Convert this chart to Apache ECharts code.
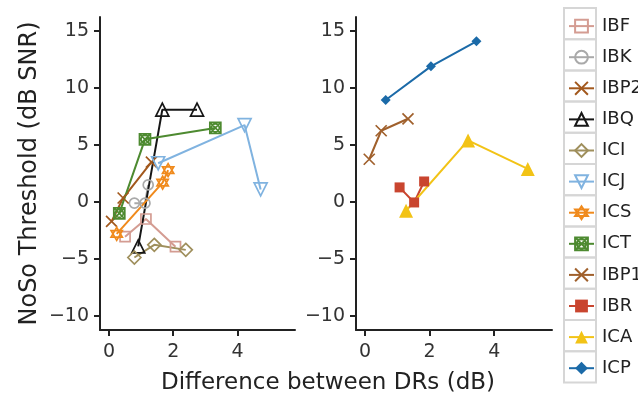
<!DOCTYPE html>
<html><head><meta charset="utf-8">
<script src="https://cdn.jsdelivr.net/npm/echarts@6/dist/echarts.min.js"></script>
<style>html,body{margin:0;padding:0;background:#fff}#c{width:638px;height:395px}</style>
</head><body><div id="c"></div>
<script>
// ---- tick labels ----
const yTicks = [-10, -5, 0, 5, 10, 15];
const xTicks = [0, 2, 4];
const xTitle = 'Difference between DRs (dB)';
const yTitle = 'NoSo Threshold (dB SNR)';

// ---- left panel data ----
const IBF_x  = [0.50, 1.15, 2.07];  const IBF_y  = [-3.04, -1.49, -3.92];
const IBK_x  = [0.79, 1.12, 1.22];  const IBK_y  = [-0.10, -0.10, 1.50];
const IBP2_x = [0.08, 0.44, 1.32];  const IBP2_y = [-1.70, 0.35, 3.50];
const IBQ_x  = [0.91, 1.66, 2.74];  const IBQ_y  = [-3.90, 8.10, 8.10];
const ICI_x  = [0.79, 1.41, 2.39];  const ICI_y  = [-4.87, -3.76, -4.20];
const ICJ_x  = [1.53, 4.22, 4.72];  const ICJ_y  = [3.40, 6.75, 1.10];
const ICS_x  = [0.24, 1.67, 1.84];  const ICS_y  = [-2.80, 1.70, 2.80];
const ICT_x  = [0.32, 1.12, 3.31];  const ICT_y  = [-1.00, 5.50, 6.50];
// ---- right panel data ----
const IBP1_x = [0.13, 0.50, 1.33];  const IBP1_y = [3.75, 6.25, 7.30];
const IBR_x  = [1.07, 1.52, 1.83];  const IBR_y  = [1.28, -0.04, 1.80];
const ICA_x  = [1.27, 3.19, 5.04];  const ICA_y  = [-0.77, 5.40, 2.90];
const ICP_x  = [0.64, 2.04, 3.45];  const ICP_y  = [8.95, 11.90, 14.10];

const names = ['IBF','IBK','IBP2','IBQ','ICI','ICJ','ICS','ICT','IBP1','IBR','ICA','ICP'];
const dataMap = {
  IBF:[IBF_x,IBF_y], IBK:[IBK_x,IBK_y], IBP2:[IBP2_x,IBP2_y], IBQ:[IBQ_x,IBQ_y],
  ICI:[ICI_x,ICI_y], ICJ:[ICJ_x,ICJ_y], ICS:[ICS_x,ICS_y], ICT:[ICT_x,ICT_y],
  IBP1:[IBP1_x,IBP1_y], IBR:[IBR_x,IBR_y], ICA:[ICA_x,ICA_y], ICP:[ICP_x,ICP_y]
};

// ---- styles ----
const CROSS = 'path://M0,0L10,10M10,0L0,10';
const STAR = 'path://M5,0L10,8.66L0,8.66ZM5,11.55L0,2.89L10,2.89Z';
const BOXX = 'path://M0,0L10,0L10,10L0,10ZM0,0L10,10M10,0L0,10M8.6,5A3.6,3.6,0,1,1,1.4,5A3.6,3.6,0,1,1,8.6,5';
const styles = {
  IBF:  {panel:0, color:'#d49c92', symbol:'rect',     size:10, hollow:true},
  IBK:  {panel:0, color:'#a9a9a9', symbol:'circle',   size:10, hollow:true},
  IBP2: {panel:0, color:'#a2581d', symbol:CROSS,      size:11, hollow:true},
  IBQ:  {panel:0, color:'#161616', symbol:'triangle', size:13, hollow:true},
  ICI:  {panel:0, color:'#9f8f5c', symbol:'diamond',  size:13, hollow:true},
  ICJ:  {panel:0, color:'#80b3e0', symbol:'triangle', size:13, hollow:true, rotate:180},
  ICS:  {panel:0, color:'#f08a1c', symbol:STAR,       size:13, hollow:true},
  ICT:  {panel:0, color:'#4d8a30', symbol:BOXX,       size:11, hollow:true},
  IBP1: {panel:1, color:'#a0602c', symbol:CROSS,      size:11, hollow:true},
  IBR:  {panel:1, color:'#c9452f', symbol:'rect',     size:10, hollow:false},
  ICA:  {panel:1, color:'#f2c316', symbol:'triangle', size:14, hollow:false},
  ICP:  {panel:1, color:'#1b6aa8', symbol:'diamond',  size:10, hollow:false}
};

const FONT = 'DejaVu Sans';
const AX = '#222';
const series = names.map(n => {
  const s = styles[n], d = dataMap[n];
  return {
    name: n, type: 'line',
    xAxisIndex: s.panel, yAxisIndex: s.panel,
    data: d[0].map((x, i) => [x, d[1][i]]),
    symbol: s.symbol, symbolSize: s.size, symbolRotate: s.rotate || 0,
    symbolKeepAspect: true, showAllSymbol: true,
    lineStyle: {color: s.color, width: 2},
    itemStyle: s.hollow
      ? {color: 'rgba(255,255,255,0)', borderColor: s.color, borderWidth: 1.7}
      : {color: s.color, borderColor: s.color, borderWidth: 0},
    emphasis: {disabled: true},
    clip: false
  };
});

function xAxisDef(gi) {
  return {
    type: 'value', gridIndex: gi, min: -0.28, max: 5.79,
    axisLine: {show: true, onZero: false, lineStyle: {color: AX, width: 2}},
    axisTick: {show: true, length: 6, lineStyle: {color: AX, width: 2}, customValues: xTicks},
    axisLabel: {color: '#333', fontSize: 19, fontFamily: FONT, margin: 13, customValues: xTicks},
    splitLine: {show: false}
  };
}
function yAxisDef(gi) {
  const a = {
    type: 'value', gridIndex: gi, min: -11.23, max: 16.23,
    axisLine: {show: true, onZero: false, lineStyle: {color: AX, width: 2}},
    axisTick: {show: true, length: 6, lineStyle: {color: AX, width: 2}, customValues: yTicks},
    axisLabel: {color: '#333', fontSize: 19, fontFamily: FONT, margin: 11, customValues: yTicks,
      formatter: v => String(v).replace('-', '\u2212')},
    splitLine: {show: false}
  };
  if (gi === 0) {
    a.name = yTitle; a.nameLocation = 'middle'; a.nameGap = 58;
    a.nameTextStyle = {color: '#222', fontSize: 24, fontFamily: FONT};
  }
  return a;
}

const cellTop = 8, cellH = 31.2;
const cells = names.map((n, i) => ({
  type: 'rect', shape: {x: 564, y: cellTop + i * cellH, width: 32, height: cellH},
  style: {fill: 'none', stroke: '#d6d6d6', lineWidth: 2}, silent: true
}));

const chart = echarts.init(document.getElementById('c'), null, {renderer: 'canvas'});
chart.setOption({
  animation: false,
  backgroundColor: '#fff',
  grid: [
    {left: 100, top: 17, width: 195, height: 313},
    {left: 356, top: 17, width: 196, height: 313}
  ],
  xAxis: [xAxisDef(0), xAxisDef(1)],
  yAxis: [yAxisDef(0), yAxisDef(1)],
  legend: {
    data: names, orient: 'vertical', left: 568, top: cellTop + cellH / 2 - 6.5,
    padding: 0, itemWidth: 25, itemHeight: 16, itemGap: cellH - 18.1,
    textStyle: {color: '#222', fontSize: 18, fontFamily: FONT, lineHeight: 18, padding: [0, 0, 0, 3]},
    selectedMode: false
  },
  graphic: cells.concat([{
    type: 'text', x: 328, y: 383,
    style: {text: xTitle, fill: '#222', font: '23px "DejaVu Sans"', align: 'center', verticalAlign: 'middle'}
  }]),
  series: series
});
</script></body></html>
